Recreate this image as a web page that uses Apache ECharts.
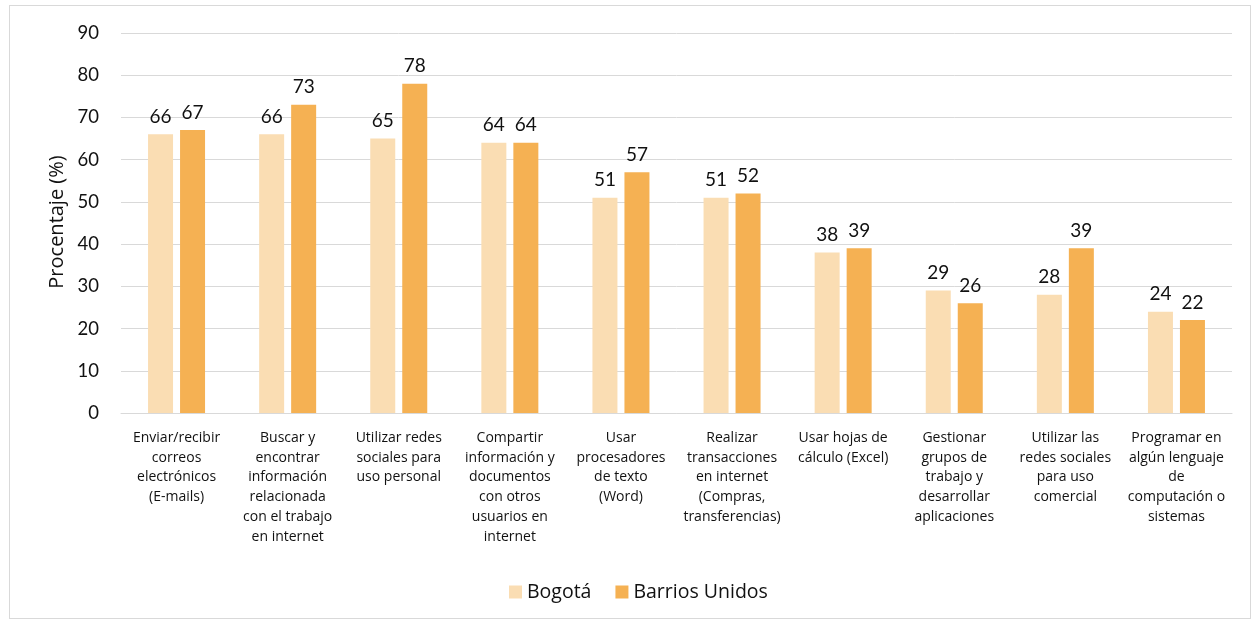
<!DOCTYPE html>
<html>
<head>
<meta charset="utf-8">
<script src="https://cdn.jsdelivr.net/npm/echarts@6/dist/echarts.min.js"></script>
<style>
html,body{margin:0;padding:0;background:#fff;}
#frame{position:absolute;left:9px;top:5px;width:1242px;height:614px;border:1px solid #d9d9d9;box-sizing:border-box;}
#chart{position:absolute;left:0;top:0;width:1257px;height:624px;}
</style>
</head>
<body>
<div id="frame"></div>
<div id="chart"></div>
<script>
const categories = [
  "Enviar/recibir\ncorreos\nelectrónicos\n(E-mails)",
  "Buscar y\nencontrar\ninformación\nrelacionada\ncon el trabajo\nen internet",
  "Utilizar redes\nsociales para\nuso personal",
  "Compartir\ninformación y\ndocumentos\ncon otros\nusuarios en\ninternet",
  "Usar\nprocesadores\nde texto\n(Word)",
  "Realizar\ntransacciones\nen internet\n(Compras,\ntransferencias)",
  "Usar hojas de\ncálculo (Excel)",
  "Gestionar\ngrupos de\ntrabajo y\ndesarrollar\naplicaciones",
  "Utilizar las\nredes sociales\npara uso\ncomercial",
  "Programar en\nalgún lenguaje\nde\ncomputación o\nsistemas"
];
const bogota = [66, 66, 65, 64, 51, 51, 38, 29, 28, 24];
const barriosUnidos = [67, 73, 78, 64, 57, 52, 39, 26, 39, 22];
const yTicks = [0, 10, 20, 30, 40, 50, 60, 70, 80, 90];
const yAxisTitle = 'Procentaje (%)';

const numFont = 'Lato, "Noto Sans", sans-serif';
const txtFont = '"Open Sans", "Noto Sans", sans-serif';
const chart = echarts.init(document.getElementById('chart'));
chart.setOption({
  animation: false,
  textStyle: {fontFamily: txtFont},
  grid: {left: 121, right: 25, top: 33, bottom: 211},
  graphic: [{
    type: 'text',
    x: 57, y: 222,
    rotation: Math.PI / 2,
    style: {
      text: yAxisTitle,
      fontSize: 20,
      fontFamily: txtFont,
      fill: '#111',
      align: 'center',
      verticalAlign: 'middle'
    }
  }],
  legend: {
    bottom: 17, left: 504,
    itemWidth: 13, itemHeight: 13, itemGap: 24,
    icon: 'rect',
    textStyle: {fontSize: 19.5, color: '#111', fontFamily: txtFont},
    data: ['Bogotá', 'Barrios Unidos']
  },
  xAxis: {
    type: 'category',
    data: categories,
    axisTick: {show: false},
    axisLine: {lineStyle: {color: '#d9d9d9'}},
    axisLabel: {interval: 0, fontSize: 14, lineHeight: 19.8, color: '#111', margin: 15, fontFamily: txtFont}
  },
  yAxis: {
    type: 'value',
    min: yTicks[0], max: yTicks[yTicks.length - 1], interval: 10,
    axisLabel: {fontSize: 18.5, color: '#111', margin: 22, fontFamily: numFont},
    splitLine: {lineStyle: {color: '#d9d9d9', width: 1}},
    axisLine: {show: false},
    axisTick: {show: false}
  },
  series: [
    {
      name: 'Bogotá', type: 'bar', data: bogota,
      barWidth: 25, barGap: '28%',
      itemStyle: {color: '#FADDB3'},
      label: {show: true, position: 'top', distance: 8, fontSize: 19, color: '#111', fontFamily: numFont}
    },
    {
      name: 'Barrios Unidos', type: 'bar', data: barriosUnidos,
      barWidth: 25, barGap: '28%',
      itemStyle: {color: '#F5B153'},
      label: {show: true, position: 'top', distance: 8, fontSize: 19, color: '#111', fontFamily: numFont}
    }
  ]
});
</script>
</body>
</html>
